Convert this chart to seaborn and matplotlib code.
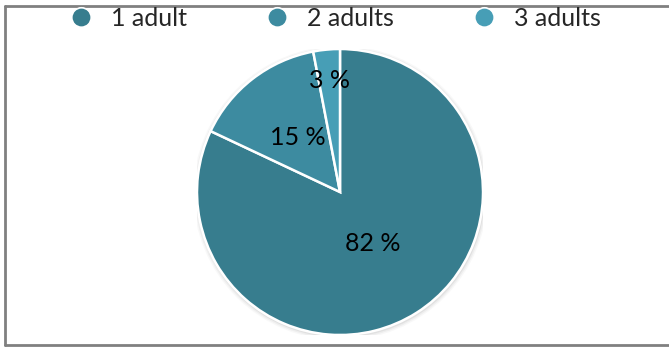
import numpy as np
import matplotlib
matplotlib.use("Agg")
import matplotlib.pyplot as plt
import seaborn as sns
from matplotlib.lines import Line2D

categories = ["1 adult", "2 adults", "3 adults"]
values = [82, 15, 3]
label_texts = ["82 %", "15 %", "3 %"]
colors = ["#377D8E", "#3D8BA0", "#479EB6"]
label_dist = [0.43, 0.48, 0.78]

sns.set_theme(style="white")
plt.rcParams['font.family'] = ['Lato', 'DejaVu Sans']

fig = plt.figure(figsize=(6.69, 3.47), dpi=100)
ax = fig.add_axes([197/669, 12/347, 286/669, 286/347])

# soft shadow
for r, a in [(1.03, 0.05), (1.02, 0.08), (1.01, 0.12)]:
    ax.add_patch(plt.Circle((0.004, -0.008), r, color="gray", alpha=a, lw=0, zorder=0))

wedges, _ = ax.pie(values, colors=colors, startangle=90, counterclock=False,
                   wedgeprops=dict(edgecolor="white", linewidth=1.8))
for w in wedges:
    w.set_zorder(2)

total = sum(values)
cum = 0
for v, t, d in zip(values, label_texts, label_dist):
    mid = 90 - 360 * (cum + v / 2) / total
    cum += v
    ax.text(d * np.cos(np.radians(mid)), d * np.sin(np.radians(mid)), t,
            ha="center", va="center", fontsize=18, color="black", zorder=5)
ax.set_xlim(-1, 1)
ax.set_ylim(-1, 1)
ax.set_aspect("equal")
ax.axis("off")

handles = [Line2D([], [], marker="o", linestyle="", markersize=14,
                  markerfacecolor=c, markeredgecolor="white", markeredgewidth=1.2)
           for c in colors]
fig.legend(handles, categories, loc="center", bbox_to_anchor=(0.5, 1 - 18/347), ncol=3,
           frameon=False, fontsize=18, handletextpad=0.7, columnspacing=3.1,
           handlelength=1.0, borderpad=0.1)

# frame
fig.add_artist(Line2D([5/669, 669/669], [1 - 5.5/347, 1 - 5.5/347], color="#808080", lw=2, transform=fig.transFigure))
fig.add_artist(Line2D([5/669, 5/669], [1 - 5.5/347, 1 - 344.5/347], color="#808080", lw=2, transform=fig.transFigure))
fig.add_artist(Line2D([5/669, 669/669], [1 - 344.5/347, 1 - 344.5/347], color="#808080", lw=2, transform=fig.transFigure))

fig.savefig("out.png", dpi=100)
